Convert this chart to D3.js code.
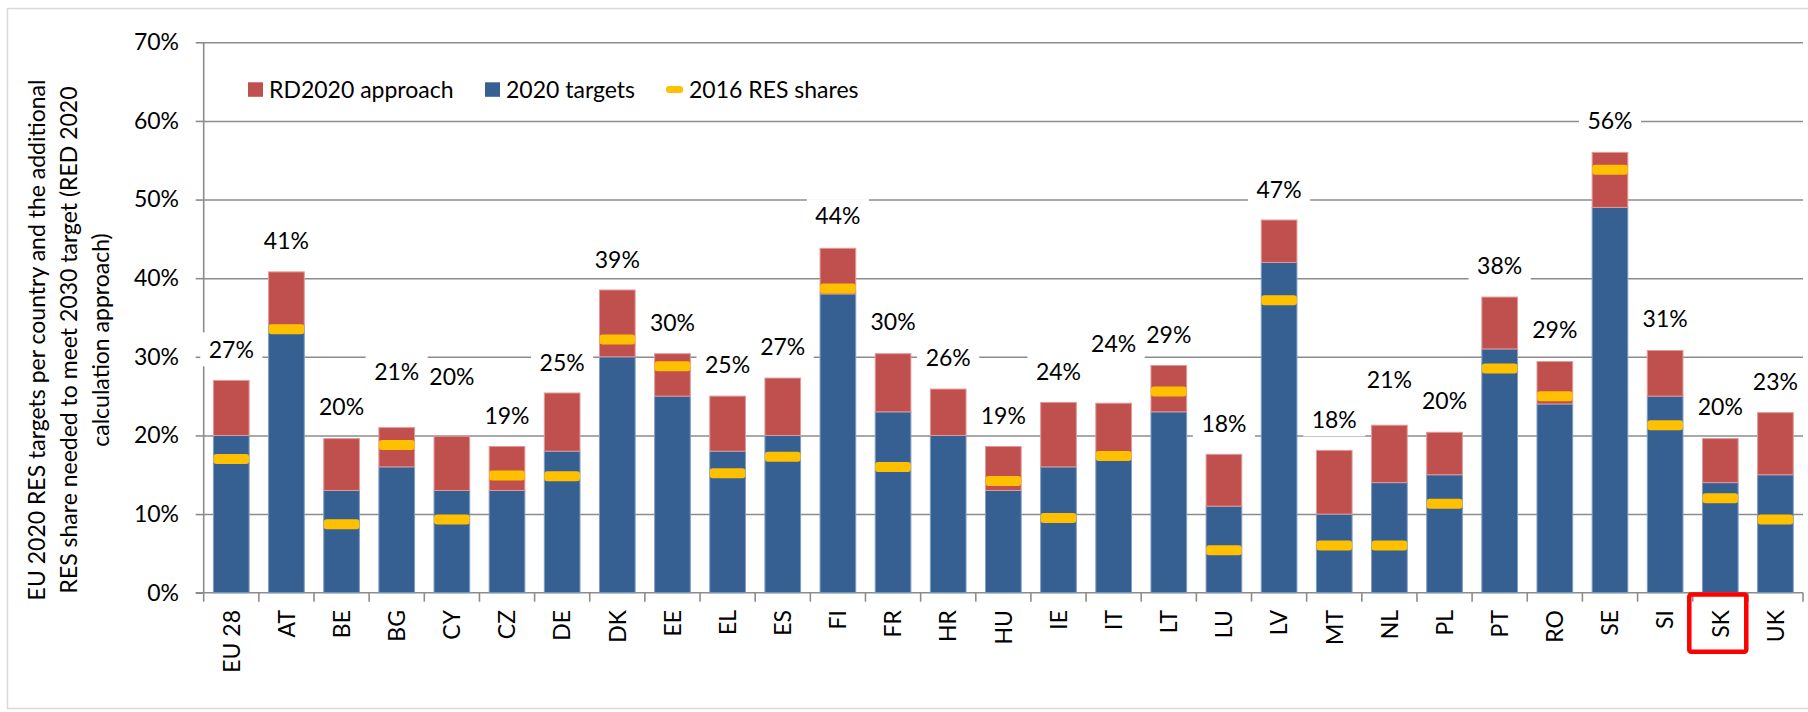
<!DOCTYPE html>
<html>
<head>
<meta charset="utf-8">
<script src="https://cdn.jsdelivr.net/npm/d3@7"></script>
<style>
  html, body { margin: 0; padding: 0; background: #fff; }
  svg { display: block; font-family: Lato, "Open Sans", sans-serif; }
</style>
</head>
<body>
<svg id="chart" width="1808" height="712"></svg>
<script>
// ---------------- data ----------------
const categories = ["EU 28","AT","BE","BG","CY","CZ","DE","DK","EE","EL","ES","FI","FR","HR","HU","IE","IT","LT","LU","LV","MT","NL","PL","PT","RO","SE","SI","SK","UK"];
// 2020 targets (blue segment), %
const targets2020 = [20,34,13,16,13,13,18,30,25,18,20,38,23,20,13,16,17,23,11,42,10,14,15,31,24,49,25,14,15];
// additional share, RD2020 approach (red segment), %
const rd2020 = [7.0,6.8,6.6,5.0,6.9,5.6,7.4,8.5,5.4,7.0,7.3,5.8,7.4,5.9,5.6,8.2,7.1,5.9,6.6,5.4,8.1,7.3,5.4,6.6,5.4,7.0,5.8,5.6,7.9];
// 2016 RES shares (yellow markers), %
const res2016 = [17.0,33.5,8.7,18.8,9.3,14.9,14.8,32.2,28.8,15.2,17.3,38.7,16.0,null,14.2,9.5,17.4,25.6,5.4,37.2,6.0,6.0,11.3,28.5,25.0,53.8,21.3,12.0,9.3];
// data label texts and the level (in %) at which each label is anchored
const labelTexts = ["27%","41%","20%","21%","20%","19%","25%","39%","30%","25%","27%","44%","30%","26%","19%","24%","24%","29%","18%","47%","18%","21%","20%","38%","29%","56%","31%","20%","23%"];
const labelLevels = [30.95,44.8,23.7,28.1,27.5,22.5,29.25,42.4,34.3,28.96,31.3,47.9,34.4,29.9,22.5,28.1,31.7,32.8,21.5,51.3,22.05,27.05,24.4,41.55,33.4,60.0,34.8,23.65,26.8];
const yTicks = [0,10,20,30,40,50,60,70];
const seriesNames = ["RD2020 approach","2020 targets","2016 RES shares"];
const titleLines = ["EU 2020 RES targets per country and the additional","RES share needed to meet 2030 target (RED 2020","calculation approach)"];
const highlighted = "SK";

// ---------------- layout ----------------
const plotLeft = 203.7, plotRight = 1803, plotTop = 42.3, plotBottom = 592.7;
const C = { blue: "#376092", red: "#C0504D", yellow: "#FFC000", grid: "#8c8c8c", text: "#000" };
const FS = 23;

const svg = d3.select("#chart");

// chart area border
svg.append("rect").attr("x", 7.5).attr("y", 8.5).attr("width", 1820).attr("height", 700)
  .attr("fill", "none").attr("stroke", "#d9d9d9").attr("stroke-width", 1.5);

const x = d3.scaleBand().domain(categories).range([plotLeft, plotRight])
  .paddingInner(0.353).paddingOuter(0.1765);
const y = d3.scaleLinear().domain([0, 70]).range([plotBottom, plotTop]);

// gridlines
svg.append("g").attr("transform", `translate(${plotLeft},0)`)
  .call(d3.axisLeft(y).tickValues(yTicks.slice(1)).tickSize(-(plotRight - plotLeft)).tickFormat(""))
  .call(g => g.select(".domain").remove())
  .call(g => g.selectAll("line").attr("stroke", C.grid).attr("stroke-width", 1.6));

// y axis
svg.append("g").attr("transform", `translate(${plotLeft},0)`)
  .call(d3.axisLeft(y).tickValues(yTicks).tickSize(8).tickPadding(16.7).tickFormat(d => d + "%"))
  .call(g => g.select(".domain").attr("stroke", C.grid).attr("stroke-width", 1.6).attr("d", `M0,${plotTop}V${plotBottom}`))
  .call(g => g.selectAll("line").attr("stroke", C.grid).attr("stroke-width", 1.6))
  .call(g => g.selectAll("text").attr("font-size", FS).attr("fill", C.text).attr("font-family", "Lato"));

// x axis baseline + boundary ticks
const xAxisG = svg.append("g").attr("transform", `translate(0,${plotBottom})`);
xAxisG.append("line").attr("x1", plotLeft - 8).attr("x2", plotRight).attr("y1", 0).attr("y2", 0)
  .attr("stroke", C.grid).attr("stroke-width", 1.6);
xAxisG.selectAll("line.bt").data(d3.range(categories.length + 1)).join("line").attr("class", "bt")
  .attr("x1", i => plotLeft + i * x.step()).attr("x2", i => plotLeft + i * x.step())
  .attr("y1", 0).attr("y2", 9).attr("stroke", C.grid).attr("stroke-width", 1.6);

// category labels via axis
const catAxis = svg.append("g").attr("transform", `translate(0,${plotBottom})`)
  .call(d3.axisBottom(x).tickSize(0))
  .call(g => g.select(".domain").remove());
catAxis.selectAll("text")
  .attr("transform", "rotate(-90)")
  .attr("x", -(610 - plotBottom)).attr("y", 0).attr("dy", "0.36em")
  .style("text-anchor", "end")
  .attr("font-size", FS).attr("font-family", "Lato").attr("fill", C.text);

// bars
const rows = categories.map((c, i) => ({ c, t: targets2020[i], r: rd2020[i], s: res2016[i], lab: labelTexts[i], lv: labelLevels[i] }));
const bars = svg.append("g");
bars.selectAll("rect.blue").data(rows).join("rect").attr("class", "blue")
  .attr("x", d => x(d.c)).attr("width", x.bandwidth())
  .attr("y", d => y(d.t)).attr("height", d => y(0) - y(d.t))
  .attr("fill", C.blue).attr("stroke", "#7f9cc3").attr("stroke-width", 1);
bars.selectAll("rect.red").data(rows).join("rect").attr("class", "red")
  .attr("x", d => x(d.c)).attr("width", x.bandwidth())
  .attr("y", d => y(d.t + d.r)).attr("height", d => y(d.t) - y(d.t + d.r))
  .attr("fill", C.red).attr("stroke", "#e29a98").attr("stroke-width", 1);

// 2016 markers
bars.selectAll("rect.mk").data(rows.filter(d => d.s != null)).join("rect").attr("class", "mk")
  .attr("x", d => x(d.c)).attr("width", x.bandwidth())
  .attr("y", d => y(d.s) - 5).attr("height", 10).attr("rx", 3)
  .attr("fill", C.yellow);

// data labels with white boxes
const lg = svg.append("g");
rows.forEach(d => {
  const cx = x(d.c) + x.bandwidth() / 2, cy = y(d.lv);
  const g = lg.append("g");
  const box = g.append("rect").attr("fill", "#fff");
  const t = g.append("text").attr("x", cx).attr("y", cy).attr("dy", "0.36em")
    .attr("text-anchor", "middle").attr("font-size", FS).attr("fill", C.text).text(d.lab);
  const w = t.node().getComputedTextLength() + 17;
  box.attr("x", cx - w / 2).attr("y", cy - 17).attr("width", w).attr("height", 34);
});

// legend
const leg = svg.append("g");
leg.append("rect").attr("x", 248).attr("y", 82.3).attr("width", 15).attr("height", 14.5).attr("fill", C.red);
leg.append("text").attr("x", 269).attr("y", 89.5).attr("dy", "0.36em").attr("font-size", FS).text(seriesNames[0]);
leg.append("rect").attr("x", 485).attr("y", 82.3).attr("width", 15).attr("height", 14.5).attr("fill", C.blue);
leg.append("text").attr("x", 506).attr("y", 89.5).attr("dy", "0.36em").attr("font-size", FS).text(seriesNames[1]);
leg.append("rect").attr("x", 666).attr("y", 86).attr("width", 17).attr("height", 7).attr("rx", 3).attr("fill", C.yellow);
leg.append("text").attr("x", 689).attr("y", 89.5).attr("dy", "0.36em").attr("font-size", FS).text(seriesNames[2]);

// y axis title
const titleX = [37, 69, 101];
titleLines.forEach((s, i) => {
  svg.append("text").attr("transform", `translate(${titleX[i]},340) rotate(-90)`)
    .attr("text-anchor", "middle").attr("dy", "0.36em").attr("font-size", FS).text(s);
});

// highlight box around SK
const hx = x(highlighted) + x.bandwidth() / 2;
svg.append("rect").attr("x", hx - 31).attr("y", 594.5).attr("width", 57).attr("height", 57.3)
  .attr("rx", 2).attr("fill", "none").attr("stroke", "#ff0000").attr("stroke-width", 4.5);
</script>
</body>
</html>
